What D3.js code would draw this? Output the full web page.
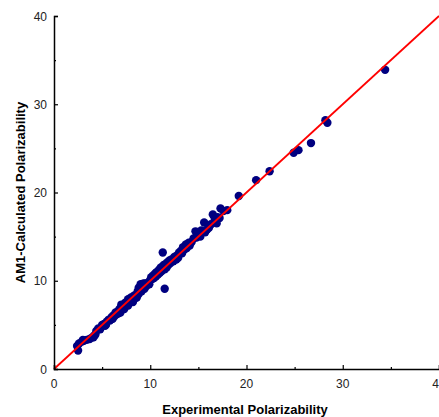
<!DOCTYPE html>
<html>
<head>
<meta charset="utf-8">
<script src="https://cdn.jsdelivr.net/npm/d3@7"></script>
<style>
  html, body { margin: 0; padding: 0; background: #fff; }
  svg { display: block; font-family: "Liberation Sans", Arial, sans-serif; }
</style>
</head>
<body>
<div id="chart"></div>
<script>
// experimental vs AM1-calculated polarizability
const experimental = [
  2.4, 2.5, 2.6, 2.9, 3.1, 3.4, 3.7, 4.0, 4.2, 4.3, 4.4, 3.0, 4.1,
  4.6, 4.8, 5.0, 5.2, 5.3, 5.5, 5.7, 5.8, 6.0, 6.1, 6.2, 6.3, 5.4, 5.9,
  6.4, 6.5, 6.6, 6.7, 6.8, 6.9, 7.0, 7.0, 7.1, 7.2, 7.3, 7.4, 7.5, 7.6, 7.7, 7.8, 7.9, 8.0, 8.1, 8.2, 8.3, 8.4, 8.5,
  6.9, 7.3, 7.7, 8.2, 8.6, 7.0,
  8.6, 8.7, 8.8, 8.9, 9.0, 9.1, 9.2, 9.3, 9.4, 9.5, 9.6, 9.8, 9.9, 10.0, 8.8, 9.3, 9.0,
  10.1, 10.2, 10.3, 10.4, 10.5, 10.6, 10.7, 10.8, 10.9, 11.0, 11.1, 11.2, 11.3, 11.5, 11.4, 11.5, 11.6, 11.7, 11.8, 11.9, 12.0, 12.1,
  10.6, 11.0, 11.3,
  12.2, 12.4, 12.5, 12.6, 12.8, 12.9, 13.0, 13.2, 13.3, 13.4, 13.5, 13.7, 13.8, 14.0, 14.1, 12.7, 13.6,
  14.3, 14.5, 14.7, 14.8, 15.0, 15.2, 15.4, 15.6, 15.7, 15.9, 16.1, 14.9, 15.3,
  16.3, 16.5, 16.7, 16.9, 17.0, 17.2, 17.3, 17.6, 18.0,
  19.2, 21.0, 22.4, 24.9, 25.4, 26.7, 28.2, 28.4, 34.4
];
const calculated = [
  2.6, 2.1, 2.9, 3.1, 3.2, 3.3, 3.4, 3.6, 3.8, 3.9, 4.3, 3.3, 3.6,
  4.6, 4.5, 5.0, 5.1, 4.9, 5.4, 5.6, 5.5, 5.9, 5.7, 6.1, 6.0, 5.0, 5.6,
  6.4, 6.2, 6.5, 6.3, 6.8, 6.6, 7.0, 6.7, 6.9, 7.2, 7.0, 7.5, 7.2, 7.4, 7.9, 7.5, 7.7, 8.1, 7.8, 8.0, 8.3, 8.0, 8.4,
  6.4, 6.8, 7.2, 7.6, 8.1, 7.3,
  8.3, 8.8, 8.5, 8.9, 9.2, 8.8, 9.6, 9.4, 9.1, 9.7, 9.4, 9.8, 9.6, 10.1, 9.2, 9.7, 9.6,
  10.4, 10.2, 10.6, 10.3, 10.8, 10.5, 11.0, 10.7, 11.2, 10.9, 11.5, 11.1, 13.2, 9.1, 11.8, 11.3, 11.9, 11.5, 12.1, 11.8, 12.3, 12.0,
  10.9, 11.3, 11.6,
  12.4, 12.2, 12.7, 12.5, 12.9, 12.6, 13.2, 13.4, 13.1, 13.8, 13.5, 14.1, 13.7, 14.3, 14.0, 12.4, 13.6,
  14.4, 14.8, 15.6, 14.9, 15.2, 15.0, 15.6, 16.6, 15.5, 15.8, 16.0, 15.4, 15.7,
  16.4, 17.5, 17.0, 16.5, 17.2, 17.1, 18.2, 17.9, 18.0,
  19.6, 21.4, 22.4, 24.5, 24.8, 25.6, 28.2, 27.9, 33.9
];
const xTicks = [0, 10, 20, 30, 40];
const yTicks = [0, 10, 20, 30, 40];
const minorTicks = [5, 15, 25, 35];

const width = 439, height = 417;
const margin = { top: 16, right: 0, bottom: 48, left: 54 };

const svg = d3.select('#chart').append('svg')
  .attr('width', width)
  .attr('height', height);

const x = d3.scaleLinear().domain([0, 40]).range([margin.left, width - margin.right]);
const y = d3.scaleLinear().domain([0, 40]).range([height - margin.bottom, margin.top]);

const points = experimental.map((d, i) => ({ x: d, y: calculated[i] }));

// points
svg.append('g')
  .selectAll('circle')
  .data(points)
  .join('circle')
  .attr('cx', d => x(d.x))
  .attr('cy', d => y(d.y))
  .attr('r', 4.2)
  .attr('fill', '#000080');

// y = x line
svg.append('line')
  .attr('x1', x(0)).attr('y1', y(0))
  .attr('x2', x(40)).attr('y2', y(40))
  .attr('stroke', '#ff0000')
  .attr('stroke-width', 1.8);

// axes, ticks pointing inward
const xAxis = svg.append('g')
  .attr('transform', `translate(0,${y(0)})`)
  .call(d3.axisTop(x).tickValues(xTicks).tickSize(4).tickFormat(''));
xAxis.select('.domain').attr('stroke-width', 1.5);
svg.append('g')
  .attr('transform', `translate(0,${y(0)})`)
  .call(d3.axisTop(x).tickValues(minorTicks).tickSize(2).tickFormat(''))
  .select('.domain').remove();

const yAxis = svg.append('g')
  .attr('transform', `translate(${x(0)},0)`)
  .call(d3.axisRight(y).tickValues(yTicks).tickSize(4).tickFormat(''));
yAxis.select('.domain').attr('stroke-width', 1.5);
svg.append('g')
  .attr('transform', `translate(${x(0)},0)`)
  .call(d3.axisRight(y).tickValues(minorTicks).tickSize(2).tickFormat(''))
  .select('.domain').remove();

svg.selectAll('.tick line').attr('stroke-width', 1.2);

// tick labels
svg.append('g')
  .selectAll('text')
  .data(xTicks)
  .join('text')
  .attr('x', d => x(d))
  .attr('y', y(0) + 19)
  .attr('text-anchor', 'middle')
  .attr('font-size', 12)
  .attr('fill', '#222')
  .text(d => d);

svg.append('g')
  .selectAll('text')
  .data(yTicks)
  .join('text')
  .attr('x', x(0) - 7)
  .attr('y', d => y(d) + 4.5)
  .attr('text-anchor', 'end')
  .attr('font-size', 12)
  .attr('fill', '#222')
  .text(d => d);

// axis titles
svg.append('text')
  .attr('x', 245)
  .attr('y', 414)
  .attr('text-anchor', 'middle')
  .attr('font-size', 13)
  .attr('font-weight', 'bold')
  .text('Experimental Polarizability');

svg.append('text')
  .attr('transform', `translate(25,${(y(0) + y(40)) / 2}) rotate(-90)`)
  .attr('text-anchor', 'middle')
  .attr('font-size', 13)
  .attr('font-weight', 'bold')
  .text('AM1-Calculated Polarizability');
</script>
</body>
</html>
